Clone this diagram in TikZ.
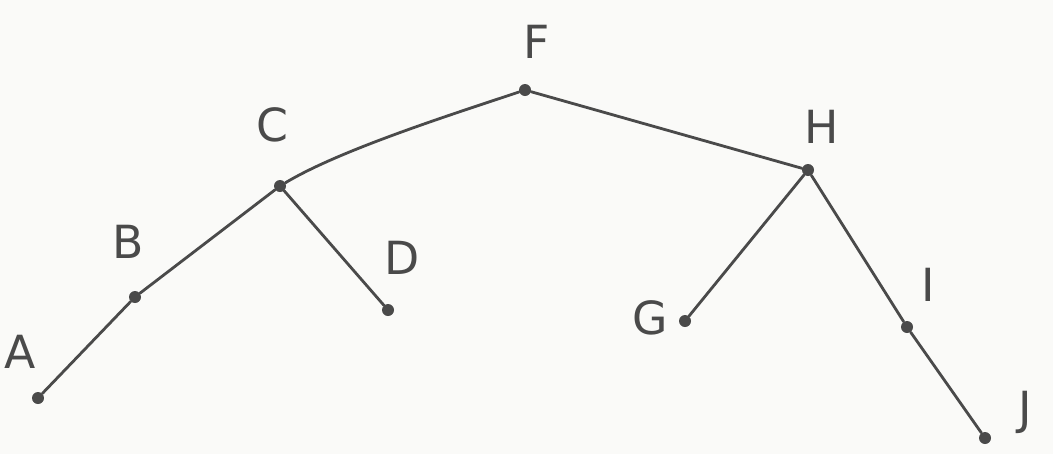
\documentclass[tikz,border=0pt]{standalone}
\usepackage{fontspec}
\setmainfont{DejaVu Sans}
\definecolor{pencil}{HTML}{4A4A4A}
\definecolor{paper}{HTML}{FAFAF8}
\begin{document}
\begin{tikzpicture}[x=0.02cm,y=-0.02cm,
  vtx/.style={circle,fill=pencil,inner sep=0pt,minimum size=0.24cm},
  lbl/.style={text=pencil,font=\fontsize{26}{28}\selectfont\mdseries,inner sep=0pt},
  edge/.style={draw=pencil,line width=1.6pt,line cap=round}]
\fill[paper] (0,0) rectangle (1053,454);
\useasboundingbox (0,0) rectangle (1053,454);
\node[vtx] (F) at (525,90) {};
\node[vtx] (C) at (280,186) {};
\node[vtx] (H) at (808,170) {};
\node[vtx] (B) at (135,297) {};
\node[vtx] (D) at (388,310) {};
\node[vtx] (A) at (38,398) {};
\node[vtx] (G) at (685,321) {};
\node[vtx] (I) at (907,327) {};
\node[vtx] (J) at (985,438) {};
\node[lbl] (lF) at (537,42) {F};
\node[lbl] (lC) at (272,125) {C};
\node[lbl] (lH) at (822,127) {H};
\node[lbl] (lB) at (128,242) {B};
\node[lbl] (lD) at (402,258) {D};
\node[lbl] (lA) at (20,352) {A};
\node[lbl] (lG) at (650,318) {G};
\node[lbl] (lI) at (928,285) {I};
\node[lbl] (lJ) at (1025,412) {J};
\draw[edge] (F) .. controls (450,115) and (340,150) .. (C);
\draw[edge] (F) -- (H);
\draw[edge] (C) -- (B);
\draw[edge] (C) -- (D);
\draw[edge] (B) -- (A);
\draw[edge] (H) -- (G);
\draw[edge] (H) -- (I);
\draw[edge] (I) -- (J);
\end{tikzpicture}
\end{document}
